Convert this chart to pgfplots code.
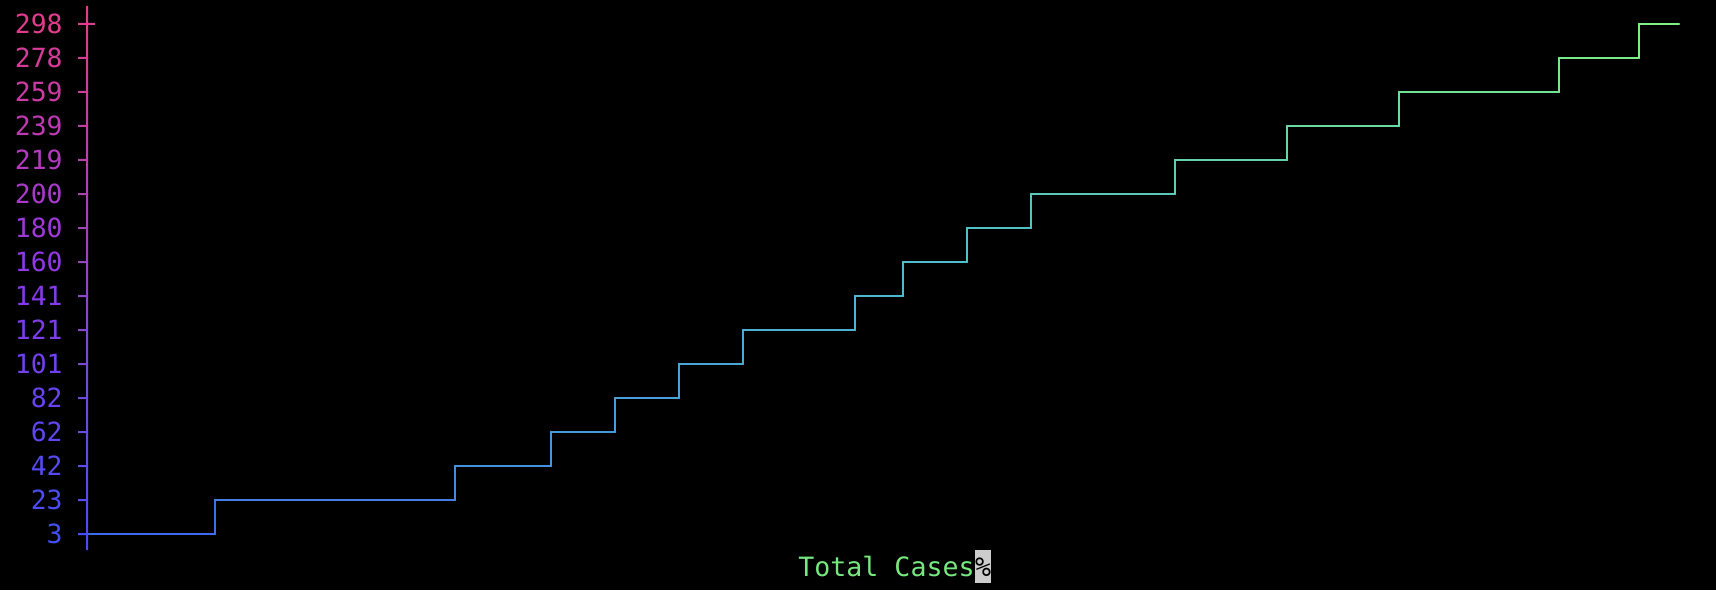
\documentclass[border=0pt]{standalone}
\usepackage{pgfplots}
\pgfplotsset{compat=1.18}
\usepackage{pgfplotstable}
\usepackage{fontspec}
\newfontfamily\mono{DejaVu Sans Mono}
\definecolor{axB}{RGB}{66,80,245}
\definecolor{axV}{RGB}{140,56,235}
\definecolor{axP}{RGB}{225,60,140}
\definecolor{c0}{RGB}{66,80,245}
\definecolor{c1}{RGB}{76,77,244}
\definecolor{c2}{RGB}{86,74,242}
\definecolor{c3}{RGB}{96,70,241}
\definecolor{c4}{RGB}{105,67,240}
\definecolor{c5}{RGB}{115,64,238}
\definecolor{c6}{RGB}{125,61,237}
\definecolor{c7}{RGB}{135,58,236}
\definecolor{c8}{RGB}{146,56,229}
\definecolor{c9}{RGB}{157,57,216}
\definecolor{c10}{RGB}{168,57,203}
\definecolor{c11}{RGB}{180,58,191}
\definecolor{c12}{RGB}{191,58,178}
\definecolor{c13}{RGB}{202,59,165}
\definecolor{c14}{RGB}{214,59,153}
\definecolor{c15}{RGB}{225,60,140}
\definecolor{titlegreen}{RGB}{118,232,126}
\pgfplotstableread{
x y
0 3
8 3
8 22.667
23 22.667
23 42.333
29 42.333
29 62
33 62
33 81.667
37 81.667
37 101.333
41 101.333
41 121
48 121
48 140.667
51 140.667
51 160.333
55 160.333
55 180
59 180
59 199.667
68 199.667
68 219.333
75 219.333
75 239
82 239
82 258.667
92 258.667
92 278.333
97 278.333
97 298
99.5 298
}\cases
\begin{document}
\begin{tikzpicture}
\fill[black] (0,0) rectangle (858pt,295pt);
\path[use as bounding box] (0,0) rectangle (858pt,295pt);
\begin{axis}[
  at={(43.5pt,20pt)}, anchor=south west,
  scale only axis, width=796pt, height=272pt,
  xmin=0, xmax=99.5, ymin=-6.25, ymax=308.41,
  axis x line=none, axis y line*=left,
  y axis line style={draw=none},
  major tick length=0pt,
  ytick={3,22.667,42.333,62,81.667,101.333,121,140.667,160.333,180,199.667,219.333,239,258.667,278.333,298},
  yticklabels={\textcolor{c0}{3},\textcolor{c1}{23},\textcolor{c2}{42},\textcolor{c3}{62},\textcolor{c4}{82},\textcolor{c5}{101},\textcolor{c6}{121},\textcolor{c7}{141},\textcolor{c8}{160},\textcolor{c9}{180},\textcolor{c10}{200},\textcolor{c11}{219},\textcolor{c12}{239},\textcolor{c13}{259},\textcolor{c14}{278},\textcolor{c15}{298}},
  yticklabel style={anchor=east, inner sep=0pt, xshift=-12pt, font=\mono\fontsize{13.2}{15}\selectfont},
  colormap={linemap}{rgb255(0cm)=(58,100,238) rgb255(1cm)=(78,184,208) rgb255(2cm)=(128,240,128)},
  point meta min=0, point meta max=99.5,
  clip=false,
]
\addplot[mesh, point meta=x, line width=1.2pt, line cap=round, line join=round] table[x=x,y=y] {\cases};
\end{axis}
% gradient y axis line and tick marks
\shade[bottom color=axB, middle color=axV, top color=axP]
  (43pt,20pt) rectangle (44pt,292pt)
  foreach \k in {0,...,14} { (39pt,{(28+17*\k-0.5)*1pt}) rectangle (43.5pt,{(28+17*\k+0.5)*1pt}) }
  (39pt,282.5pt) rectangle (47.5pt,283.5pt);
% bottom title
\node[anchor=base west, inner sep=0pt, text=titlegreen, font=\mono\fontsize{13.3}{15}\selectfont] at (399pt,7pt) {Total Cases};
\fill[gray!40] (487.5pt,3.5pt) rectangle (495.5pt,20pt);
\node[anchor=base, inner sep=0pt, text=black, font=\mono\fontsize{13.3}{15}\selectfont] at (491.5pt,7pt) {\%};
\end{tikzpicture}
\end{document}
